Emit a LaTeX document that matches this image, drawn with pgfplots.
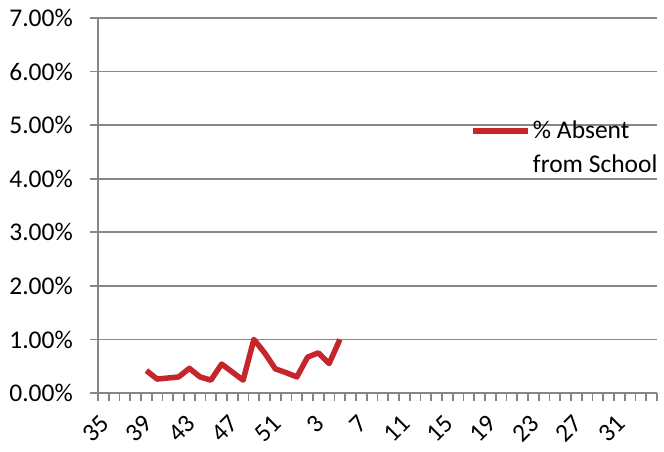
\documentclass[border=0pt]{standalone}
\usepackage{fontspec}
\setmainfont{Carlito}
\usepackage{pgfplots}
\pgfplotsset{compat=1.18}
\definecolor{absent}{RGB}{196,38,44}
\definecolor{gridgray}{RGB}{134,134,134}
\newcommand{\chartfont}{\fontsize{25.5}{34}\selectfont}
\begin{document}
\chartfont
\begin{tikzpicture}
\path[use as bounding box] (0,0) rectangle (664pt,451pt);
\begin{axis}[
  at={(98pt,58pt)}, anchor=south west,
  scale only axis, width=559pt, height=375pt,
  xmin=-0.5, xmax=51.5, ymin=0, ymax=7,
  axis x line=bottom, axis y line=left,
  axis line style={-, gridgray, line width=1.7pt},
  ytick={0,...,7}, ymajorgrids,
  major grid style={gridgray, line width=1.6pt},
  yticklabels={0.00\%,1.00\%,2.00\%,3.00\%,4.00\%,5.00\%,6.00\%,7.00\%},
  xtick={0,4,...,48},
  xticklabels={35,39,43,47,51,3,7,11,15,19,23,27,31},
  minor xtick={-0.5,0.5,...,51.5},
  tick align=outside,
  major tick length=8pt, minor tick length=8pt,
  major x tick style={draw=none},
  tick style={gridgray, line width=1.6pt},
  tick label style={font=\chartfont},
  xticklabel style={yshift=-18pt, xshift=2pt, rotate=45, anchor=east, inner sep=0pt},
  yticklabel style={inner sep=0pt, xshift=-17pt},
  legend style={draw=none, fill=none, at={(0.666,0.653)}, anchor=west,
    inner sep=0pt, font=\chartfont, cells={align=left, anchor=west},
    column sep=0pt},
  legend image code/.code={\draw[#1] (0pt,17pt) -- (55pt,17pt);},
]
\addplot[absent, line width=5.5pt, line join=round] table {
x  y
4  0.42
5  0.26
6  0.28
7  0.30
8  0.46
9  0.30
10 0.24
11 0.54
12 0.39
13 0.24
14 1.00
15 0.75
16 0.45
17 0.38
18 0.30
19 0.67
20 0.75
21 0.55
22 1.00
};
\addlegendentry{\% Absent\\from School}
\end{axis}
\end{tikzpicture}
\end{document}
